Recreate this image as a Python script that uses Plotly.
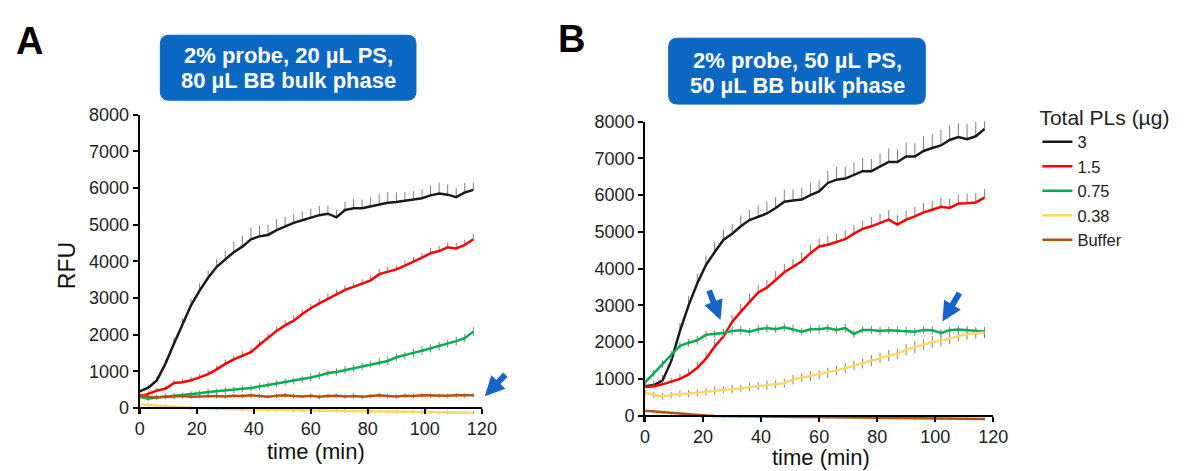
import plotly.graph_objects as go

W, H = 1194, 471

# ---------------- data ----------------
time_min = list(range(0, 118, 3))  # 0..117 min

series_names = ["3", "1.5", "0.75", "0.38", "Buffer"]
series_colors = ["#1a1a1a", "#ff0000", "#00b050", "#ffd966", "#b5520f"]

# Panel A: 2% probe, 20 uL PS, 80 uL BB
A_3 = [450, 550, 750, 1200, 1750, 2300, 2800, 3200, 3550, 3850, 4050, 4250, 4400, 4600, 4680, 4720,
       4850, 4950, 5050, 5120, 5200, 5260, 5300, 5200, 5400, 5450, 5450, 5500, 5560, 5600, 5620, 5650,
       5680, 5720, 5800, 5850, 5820, 5750, 5880, 5950]
A_1_5 = [300, 380, 470, 520, 680, 700, 750, 830, 920, 1050, 1200, 1320, 1420, 1520, 1720, 1900,
         2100, 2250, 2380, 2560, 2720, 2850, 2980, 3100, 3220, 3300, 3380, 3480, 3650, 3720, 3780, 3880,
         3980, 4100, 4220, 4280, 4380, 4350, 4450, 4600]
A_0_75 = [300, 250, 280, 300, 320, 350, 370, 400, 430, 450, 470, 490, 510, 540, 580, 620,
          660, 700, 730, 780, 830, 880, 950, 980, 1030, 1080, 1130, 1190, 1250, 1280, 1380, 1430,
          1500, 1560, 1620, 1680, 1750, 1820, 1900, 2080]
A_0_38 = [100, 80, 60, 40, 20, 10, 0, -10, -20, -25, -30, -35, -40, -45, -50, -55,
          -60, -60, -65, -70, -70, -75, -80, -80, -85, -90, -90, -95, -100, -100, -105, -110,
          -110, -115, -120, -120, -125, -130, -130, -135]
A_buf = [350, 300, 290, 300, 310, 320, 300, 310, 330, 320, 310, 330, 320, 340, 320, 300,
         330, 340, 320, 310, 330, 300, 320, 330, 310, 320, 300, 330, 340, 320, 310, 330,
         320, 340, 330, 320, 330, 340, 330, 340]

A_3_err = [60, 80, 100, 120, 150, 150, 180, 200, 200, 220, 250, 280, 300, 320, 300, 280,
           300, 260, 250, 240, 230, 250, 220, 200, 230, 260, 240, 250, 280, 300, 260, 240,
           230, 250, 260, 300, 280, 250, 260, 200]
A_1_5_err = [60, 70, 80, 80, 90, 90, 100, 100, 110, 110, 120, 110, 120, 130, 120, 130,
             120, 130, 140, 130, 120, 130, 140, 130, 120, 110, 130, 120, 140, 130, 120, 130,
             140, 130, 150, 140, 130, 150, 140, 150]
A_0_75_err = [60, 60, 70, 70, 80, 70, 80, 80, 90, 80, 90, 90, 80, 90, 100, 90,
              90, 100, 90, 100, 110, 100, 90, 100, 110, 100, 110, 100, 110, 120, 110, 100,
              110, 120, 110, 120, 110, 120, 110, 120]
A_0_38_err = [40, 40, 40, 50, 40, 40, 50, 40, 40, 50, 40, 40, 50, 40, 40, 50,
              40, 40, 50, 40, 40, 50, 40, 40, 50, 40, 40, 50, 40, 40, 50, 40,
              40, 50, 40, 40, 50, 40, 40, 50]
A_buf_err = [60, 50, 60, 50, 60, 70, 60, 50, 60, 70, 60, 50, 60, 70, 60, 50,
             60, 70, 60, 50, 60, 70, 60, 50, 60, 70, 60, 50, 60, 70, 60, 50,
             60, 70, 60, 50, 60, 70, 60, 50]

# Panel B: 2% probe, 50 uL PS, 50 uL BB
B_3 = [800, 830, 950, 1480, 2300, 3000, 3600, 4100, 4450, 4780, 4950, 5150, 5320, 5420, 5500, 5650,
       5820, 5850, 5880, 6000, 6100, 6330, 6420, 6450, 6550, 6650, 6650, 6780, 6900, 6900, 7050, 7050,
       7200, 7280, 7350, 7500, 7580, 7520, 7600, 7800]
B_1_5 = [780, 800, 850, 920, 1000, 1120, 1300, 1550, 1880, 2150, 2550, 2830, 3100, 3350, 3480, 3700,
         3900, 4050, 4200, 4420, 4600, 4650, 4720, 4800, 4950, 5080, 5150, 5250, 5330, 5200, 5330, 5420,
         5530, 5600, 5680, 5650, 5770, 5780, 5800, 5930]
B_0_75 = [900, 1150, 1400, 1650, 1900, 1980, 2050, 2200, 2220, 2250, 2300, 2320, 2280, 2350, 2380, 2350,
          2400, 2350, 2280, 2350, 2350, 2380, 2330, 2380, 2220, 2330, 2330, 2300, 2320, 2310, 2300, 2280,
          2330, 2320, 2250, 2320, 2340, 2320, 2300, 2290]
B_0_38 = [620, 560, 520, 560, 590, 600, 620, 650, 680, 700, 720, 730, 780, 800, 830, 850,
          880, 980, 1030, 1070, 1110, 1160, 1230, 1290, 1360, 1420, 1500, 1570, 1630, 1680, 1790, 1860,
          1930, 2000, 2040, 2100, 2170, 2220, 2240, 2260]
B_buf = [130, 110, 80, 60, 40, 20, 10, 0, -10, -15, -20, -22, -25, -28, -30, -32,
         -35, -38, -40, -42, -45, -48, -50, -52, -55, -58, -60, -62, -65, -68, -70, -72,
         -75, -78, -80, -82, -85, -88, -90, -92]

B_3_err = [100, 120, 150, 200, 220, 250, 260, 250, 270, 280, 260, 300, 280, 300, 320, 300,
           330, 300, 320, 340, 300, 330, 350, 320, 340, 360, 330, 350, 370, 340, 380, 360,
           400, 380, 420, 400, 380, 420, 400, 380]
B_1_5_err = [80, 90, 100, 110, 130, 150, 160, 180, 200, 190, 200, 210, 220, 200, 210, 230,
             220, 210, 240, 230, 220, 240, 230, 250, 240, 230, 250, 240, 260, 250, 240, 260,
             250, 240, 260, 250, 240, 260, 250, 240]
B_0_75_err = [80, 90, 100, 110, 100, 110, 120, 110, 100, 110, 120, 110, 100, 120, 110, 100,
              110, 120, 100, 110, 120, 110, 100, 120, 110, 100, 110, 120, 100, 110, 120, 110,
              100, 120, 110, 100, 110, 120, 100, 110]
B_0_38_err = [80, 80, 90, 80, 90, 100, 90, 100, 110, 100, 110, 100, 120, 110, 120, 110,
              120, 130, 120, 130, 120, 140, 130, 140, 130, 140, 150, 140, 150, 140, 150, 160,
              150, 160, 150, 160, 150, 160, 150, 160]
B_buf_err = [40, 40, 30, 40, 30, 40, 30, 40, 30, 40, 30, 40, 30, 40, 30, 40,
             30, 40, 30, 40, 30, 40, 30, 40, 30, 40, 30, 40, 30, 40, 30, 40,
             30, 40, 30, 40, 30, 40, 30, 40]

panelA = [A_3, A_1_5, A_0_75, A_0_38, A_buf]
panelA_err = [A_3_err, A_1_5_err, A_0_75_err, A_0_38_err, A_buf_err]
panelB = [B_3, B_1_5, B_0_75, B_0_38, B_buf]
panelB_err = [B_3_err, B_1_5_err, B_0_75_err, B_0_38_err, B_buf_err]
plus_only = [True, True, False, False, False]

x_ticks = [0, 20, 40, 60, 80, 100, 120]
y_ticks = [0, 1000, 2000, 3000, 4000, 5000, 6000, 7000, 8000]

# ---------------- layout helpers (pixels -> paper) ----------------
def px(x):
    return x / W

def py(y):
    return 1 - y / H

FONT = "Liberation Sans, Arial, sans-serif"
Y_MIN = -180
Y_MAX = 8000

# panel geometry in pixels: left, right, y of 8000, y of 0
geomA = dict(l=137, r=485, top=108, zero=410)
geomB = dict(l=651, r=1005, top=115, zero=418)

def ydomain(g):
    per = (g["zero"] - g["top"]) / Y_MAX
    bottom = g["zero"] - Y_MIN * per
    return [py(bottom), py(g["top"])]

def xaxis_pos(g):
    return py(g["zero"])

fig = go.Figure()

for panel, errs, xa, ya, show in [(panelA, panelA_err, "x", "y", False),
                                  (panelB, panelB_err, "x2", "y2", True)]:
    for i in range(len(series_names)):
        err = dict(type="data", array=errs[i], color="#808080", thickness=1, width=0, visible=True)
        if plus_only[i]:
            err["symmetric"] = False
            err["arrayminus"] = [0] * len(errs[i])
        fig.add_trace(go.Scatter(
            x=time_min, y=panel[i], mode="lines", name=series_names[i],
            line=dict(color=series_colors[i], width=2.5),
            error_y=err, xaxis=xa, yaxis=ya, showlegend=show,
        ))

axis_common = dict(showgrid=False, zeroline=False, showline=True, linecolor="black", linewidth=2,
                   ticks="outside", ticklen=5, tickwidth=1.5, tickcolor="black",
                   tickfont=dict(family=FONT, size=18, color="#222222"))

fig.update_layout(
    width=W, height=H, margin=dict(l=0, r=0, t=0, b=0),
    paper_bgcolor="white", plot_bgcolor="white",
    xaxis=dict(domain=[px(geomA["l"]), px(geomA["r"])], range=[0, 120], tickvals=x_ticks,
               anchor="free", position=xaxis_pos(geomA), **axis_common),
    yaxis=dict(domain=ydomain(geomA), range=[Y_MIN, Y_MAX], tickvals=y_ticks, anchor="x", **axis_common),
    xaxis2=dict(domain=[px(geomB["l"]), px(geomB["r"])], range=[0, 120], tickvals=x_ticks,
                anchor="free", position=xaxis_pos(geomB), **axis_common),
    yaxis2=dict(domain=ydomain(geomB), range=[Y_MIN, Y_MAX], tickvals=y_ticks, anchor="x2", **axis_common),
    legend=dict(x=px(1050), y=py(90), xanchor="left", yanchor="top",
                title=dict(text="Total PLs (µg)", font=dict(family=FONT, size=21, color="#222222")),
                font=dict(family=FONT, size=16.5, color="#222222"),
                itemwidth=30, tracegroupgap=0, bgcolor="rgba(0,0,0,0)"),
)

# rounded title boxes
def rounded_box(x0, y0, x1, y1, r):
    rx, ry = r / W, r / H
    X0, X1, Y0, Y1 = px(x0), px(x1), py(y1), py(y0)  # Y0 bottom, Y1 top
    return (f"M {X0+rx},{Y0} L {X1-rx},{Y0} Q {X1},{Y0} {X1},{Y0+ry} "
            f"L {X1},{Y1-ry} Q {X1},{Y1} {X1-rx},{Y1} "
            f"L {X0+rx},{Y1} Q {X0},{Y1} {X0},{Y1-ry} "
            f"L {X0},{Y0+ry} Q {X0},{Y0} {X0+rx},{Y0} Z")

BLUE = "#0b68c2"
boxes = [
    ((158, 26, 418, 93), 288, ["2% probe, 20 µL PS,", "80 µL BB bulk phase"], (47, 73)),
    ((675, 29, 936, 97), 806, ["2% probe, 50 µL PS,", "50 µL BB bulk phase"], (52, 78)),
]
for (x0, y0, x1, y1), cx, lines, ys in boxes:
    fig.add_shape(type="path", path=rounded_box(x0, y0, x1, y1, 9), xref="paper", yref="paper",
                  fillcolor=BLUE, line=dict(color=BLUE, width=1), layer="above")
    for txt, yy in zip(lines, ys):
        fig.add_annotation(x=px(cx), y=py(yy), xref="paper", yref="paper", text=f"<b>{txt}</b>",
                           showarrow=False, xanchor="center", yanchor="middle",
                           font=dict(family=FONT, size=22, color="white"))

# panel letters
for letter, (lx, ly) in [("A", (25, 32)), ("B", (576, 30))]:
    fig.add_annotation(x=px(lx), y=py(ly), xref="paper", yref="paper", text=f"<b>{letter}</b>",
                       showarrow=False, xanchor="center", yanchor="middle",
                       font=dict(family=FONT, size=38, color="black"))

# axis titles
fig.add_annotation(x=px(63), y=py(263), xref="paper", yref="paper", text="RFU", textangle=-90,
                   showarrow=False, xanchor="center", yanchor="middle",
                   font=dict(family=FONT, size=23, color="#111111"))
for cx, cy in [(316, 455), (830, 461)]:
    fig.add_annotation(x=px(cx), y=py(cy), xref="paper", yref="paper", text="time (min)",
                       showarrow=False, xanchor="center", yanchor="middle",
                       font=dict(family=FONT, size=22, color="#111111"))

# blue arrows (tip position, tail offset in px)
ARROW = "#1565c8"
arrows = [("paper", "paper", px(488), py(398), 22, -23),
          ("x2", "y2", 26, 2600, -12, -31),
          ("x2", "y2", 102.5, 2560, 18, -30)]
for xr, yr, ax_, ay_, dx, dy in arrows:
    fig.add_annotation(x=ax_, y=ay_, xref=xr, yref=yr, ax=dx, ay=dy, text="", showarrow=True,
                       arrowhead=2, arrowsize=0.65, arrowwidth=6, arrowcolor=ARROW)

fig.write_html("out.html")
